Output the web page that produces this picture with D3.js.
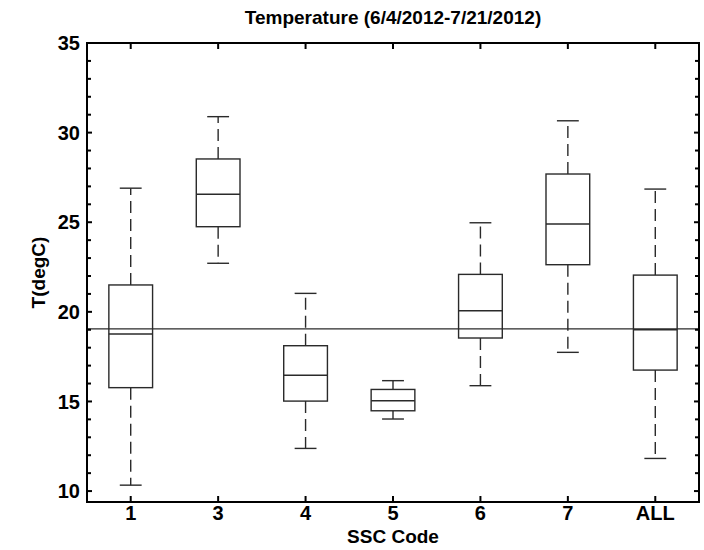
<!DOCTYPE html>
<html>
<head>
<meta charset="utf-8">
<script src="https://cdn.jsdelivr.net/npm/d3@7.9.0/dist/d3.min.js"></script>
<style>
  body { margin: 0; background: #fff; }
  svg text { font-family: "Liberation Sans", Arial, sans-serif; fill: #000; }
</style>
</head>
<body>
<svg id="chart" width="704" height="550"></svg>
<script>
const categories = ['1', '3', '4', '5', '6', '7', 'ALL'];
const whiskerLow = [10.33, 22.71, 12.38, 14.02, 15.88, 17.74, 11.82];
const q1 = [15.77, 24.75, 15.02, 14.48, 18.54, 22.63, 16.75];
const medians = [18.76, 26.56, 16.46, 15.04, 20.06, 24.9, 19.0];
const q3 = [21.5, 28.53, 18.11, 15.67, 22.09, 27.69, 22.05];
const whiskerHigh = [26.9, 30.89, 21.03, 16.16, 24.97, 30.66, 26.85];
const refValue = 19.05;
const yTicks = [10, 15, 20, 25, 30, 35];

const boxes = categories.map((c, i) => ({
  cat: c, pos: i + 1,
  lo: whiskerLow[i], q1: q1[i], med: medians[i], q3: q3[i], hi: whiskerHigh[i]
}));

const svg = d3.select('#chart');
const plotLeft = 87, plotRight = 699, plotTop = 43, plotBottom = 502;

const x = d3.scaleLinear().domain([0.5, categories.length + 0.5]).range([plotLeft, plotRight]);
const y = d3.scaleLinear().domain([9.39, 35]).range([plotBottom, plotTop]);

const boxHalf = (x(1.25) - x(1));
const capHalf = (x(1.125) - x(1));
const stroke = '#2a2a2a';

// reference line
svg.append('line')
  .attr('x1', plotLeft).attr('x2', plotRight)
  .attr('y1', y(refValue)).attr('y2', y(refValue))
  .attr('stroke', stroke).attr('stroke-width', 1.4);

const g = svg.append('g').selectAll('g').data(boxes).join('g');

// whiskers
g.append('line')
  .attr('x1', d => x(d.pos)).attr('x2', d => x(d.pos))
  .attr('y1', d => y(d.q3)).attr('y2', d => y(d.hi))
  .attr('stroke', stroke).attr('stroke-width', 1.4).attr('stroke-dasharray', '12,6');
g.append('line')
  .attr('x1', d => x(d.pos)).attr('x2', d => x(d.pos))
  .attr('y1', d => y(d.q1)).attr('y2', d => y(d.lo))
  .attr('stroke', stroke).attr('stroke-width', 1.4).attr('stroke-dasharray', '12,6');

// caps
['hi', 'lo'].forEach(k => {
  g.append('line')
    .attr('x1', d => x(d.pos) - capHalf).attr('x2', d => x(d.pos) + capHalf)
    .attr('y1', d => y(d[k])).attr('y2', d => y(d[k]))
    .attr('stroke', stroke).attr('stroke-width', 1.4);
});

// boxes
g.append('rect')
  .attr('x', d => x(d.pos) - boxHalf)
  .attr('width', boxHalf * 2)
  .attr('y', d => y(d.q3))
  .attr('height', d => y(d.q1) - y(d.q3))
  .attr('fill', 'none').attr('stroke', stroke).attr('stroke-width', 1.4);

// medians
g.append('line')
  .attr('x1', d => x(d.pos) - boxHalf).attr('x2', d => x(d.pos) + boxHalf)
  .attr('y1', d => y(d.med)).attr('y2', d => y(d.med))
  .attr('stroke', stroke).attr('stroke-width', 1.4);

// axes with inward ticks
const minor = d3.range(10, 36, 1);
const axisG = svg.append('g');
axisG.append('rect')
  .attr('x', plotLeft).attr('y', plotTop)
  .attr('width', plotRight - plotLeft).attr('height', plotBottom - plotTop)
  .attr('fill', 'none').attr('stroke', '#000').attr('stroke-width', 2);

minor.forEach(v => {
  const len = v % 5 === 0 ? 5 : 4;
  axisG.append('line').attr('x1', plotLeft).attr('x2', plotLeft + len)
    .attr('y1', y(v)).attr('y2', y(v)).attr('stroke', '#000').attr('stroke-width', 2);
  axisG.append('line').attr('x1', plotRight).attr('x2', plotRight - len)
    .attr('y1', y(v)).attr('y2', y(v)).attr('stroke', '#000').attr('stroke-width', 2);
});

boxes.forEach(d => {
  axisG.append('line').attr('x1', x(d.pos)).attr('x2', x(d.pos))
    .attr('y1', plotBottom).attr('y2', plotBottom - 6).attr('stroke', '#000').attr('stroke-width', 2);
  axisG.append('line').attr('x1', x(d.pos)).attr('x2', x(d.pos))
    .attr('y1', plotTop).attr('y2', plotTop + 6).attr('stroke', '#000').attr('stroke-width', 2);
});

svg.append('g').selectAll('text').data(yTicks).join('text')
  .attr('x', plotLeft - 7).attr('y', d => y(d))
  .attr('dy', '0.36em').attr('text-anchor', 'end')
  .attr('font-size', 20).attr('font-weight', 'bold')
  .text(d => d);

svg.append('g').selectAll('text').data(boxes).join('text')
  .attr('x', d => x(d.pos)).attr('y', 520)
  .attr('text-anchor', 'middle')
  .attr('font-size', 20).attr('font-weight', 'bold')
  .text(d => d.cat);

svg.append('text')
  .attr('x', (plotLeft + plotRight) / 2).attr('y', 543)
  .attr('text-anchor', 'middle').attr('font-size', 19).attr('font-weight', 'bold')
  .text('SSC Code');

svg.append('text')
  .attr('transform', `translate(45,${(plotTop + plotBottom) / 2}) rotate(-90)`)
  .attr('text-anchor', 'middle').attr('font-size', 19).attr('font-weight', 'bold')
  .text('T(degC)');

svg.append('text')
  .attr('x', (plotLeft + plotRight) / 2).attr('y', 24)
  .attr('text-anchor', 'middle').attr('font-size', 19).attr('font-weight', 'bold')
  .text('Temperature (6/4/2012-7/21/2012)');
</script>
</body>
</html>
